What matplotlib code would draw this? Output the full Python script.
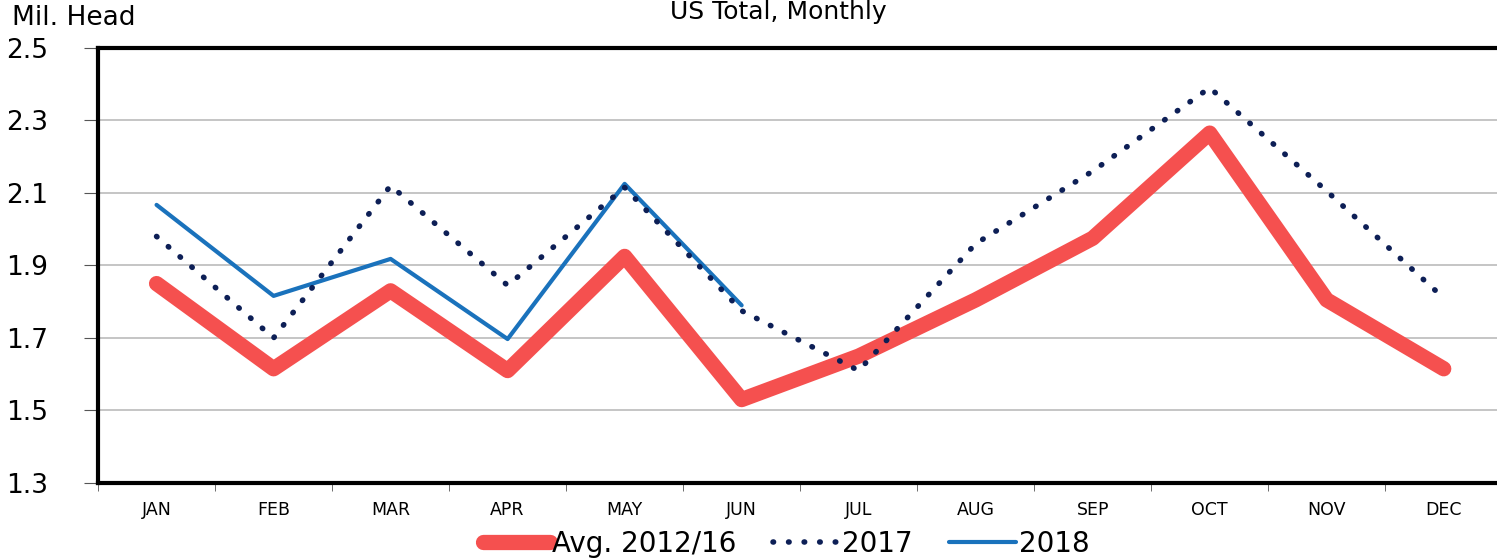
import matplotlib.pyplot as plt
import numpy as np

months = ['JAN', 'FEB', 'MAR', 'APR', 'MAY', 'JUN', 'JUL', 'AUG', 'SEP', 'OCT', 'NOV', 'DEC']
avg_2012_16 = [1.85, 1.615, 1.83, 1.61, 1.925, 1.53, 1.65, 1.805, 1.975, 2.265, 1.805, 1.615]
y2017 = [1.98, 1.70, 2.12, 1.845, 2.115, 1.775, 1.61, 1.96, 2.16, 2.39, 2.105, 1.81]
y2018 = [2.067, 1.816, 1.918, 1.697, 2.125, 1.79]

plt.rcParams['font.family'] = ['DejaVu Sans']

fig = plt.figure(figsize=(14.97, 5.6), dpi=100)
ax = fig.add_axes([0.0655, 0.1375, 0.938, 0.777])

x = np.arange(len(months))
ax.plot(x, avg_2012_16, color='#F5504F', linewidth=11, solid_capstyle='round',
        solid_joinstyle='round', label='Avg. 2012/16', zorder=3)
ax.plot(x[:len(y2018)], y2018, color='#1A72BC', linewidth=3, solid_capstyle='round',
        label='2018', zorder=4)
ax.plot(x, y2017, color='#0D1F56', linewidth=4, linestyle=(0, (0.1, 2.7)),
        dash_capstyle='round', label='2017', zorder=5)

ax.set_xlim(-0.5, 11.5)
ax.set_ylim(1.3, 2.5)
ax.set_yticks(np.arange(1.3, 2.51, 0.2))
ax.set_yticklabels(['%.1f' % v for v in np.arange(1.3, 2.51, 0.2)], fontsize=19)
ax.set_xticks(x)
ax.set_xticklabels(months, fontsize=12.5)
ax.set_xticks(np.arange(-0.5, 12, 1), minor=True)
ax.tick_params(axis='x', which='major', length=0, pad=13)
ax.tick_params(axis='x', which='minor', length=6, color='#555555')
ax.tick_params(axis='y', length=10, color='#555555')
for lbl in ax.get_yticklabels():
    lbl.set_horizontalalignment('left')
ax.yaxis.set_tick_params(pad=56)
ax.yaxis.grid(True, color='#BBBBBB', linewidth=1.2)
ax.set_axisbelow(True)

for s in ['left', 'bottom', 'top']:
    ax.spines[s].set_linewidth(3)
    ax.spines[s].set_color('black')
ax.spines['right'].set_visible(False)

fig.text(0.008, 0.968, 'Mil. Head', fontsize=19, ha='left', va='center')
fig.text(0.52, 1.0, 'US Total, Monthly', fontsize=18, ha='center', va='top')

handles, labels = ax.get_legend_handles_labels()
order = [0, 2, 1]
ax.legend([handles[i] for i in order], [labels[i] for i in order],
          loc='upper center', bbox_to_anchor=(0.49, -0.05), ncol=3, frameon=False,
          fontsize=20, handlelength=2.4, handletextpad=0.1, columnspacing=1.3)

fig.savefig('out.png', dpi=100)
